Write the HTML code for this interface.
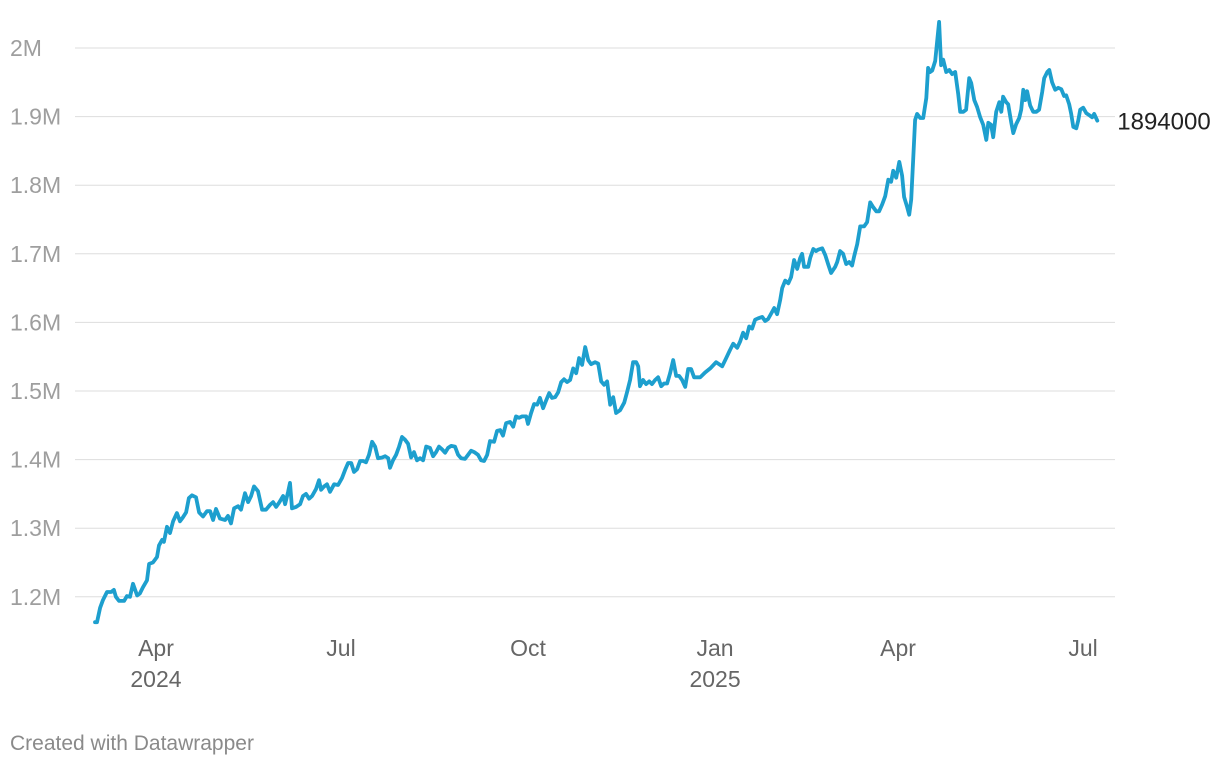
<!DOCTYPE html>
<html><head><meta charset="utf-8">
<style>
html,body{margin:0;padding:0;background:#fff;width:1220px;height:768px;overflow:hidden;font-family:"Liberation Sans",sans-serif;}
svg{display:block}
.footer{position:absolute;left:10px;top:732px;font-size:21px;color:#8a8a8a;}
</style></head>
<body>
<svg id="chart" width="1220" height="768"></svg>
<div class="footer">Created with Datawrapper</div>
<script>
const yTicks=[1200,1300,1400,1500,1600,1700,1800,1900,2000];
const yTickLabels=["1.2M","1.3M","1.4M","1.5M","1.6M","1.7M","1.8M","1.9M","2M"];
const xTickDays=[30,121,213,305,395,486];
const xTickLabels=["Apr","Jul","Oct","Jan","Apr","Jul"];
const xYearLabels=["2024","","","2025","",""];
const days=[0,1.0,2.5,3.9,5.9,7.9,9.3,10.3,11.8,14.3,15.7,17.2,18.7,20.7,22.1,23.6,25.6,26.6,28.5,30.5,31.5,33.0,33.9,35.4,36.9,38.4,40.3,41.8,43.3,44.8,46.2,47.7,49.7,51.2,53.1,55.1,56.6,58.1,59.5,61.5,64.0,65.4,66.9,68.4,70.4,71.8,73.8,75.3,76.8,78.2,80.2,82.2,84.1,86.1,87.6,89.1,90.5,92.5,93.5,95.0,95.9,96.9,98.9,100.9,102.3,103.8,105.3,106.8,108.7,110.2,111.2,112.7,114.1,115.6,117.6,119.6,121.5,123.0,124.5,126.0,127.4,128.9,130.4,131.9,133.3,134.8,136.3,137.8,139.2,141.2,142.7,144.2,145.1,146.6,148.1,149.6,151.0,152.5,154.0,155.5,156.9,158.4,159.9,161.4,162.9,164.8,166.3,167.8,169.2,170.7,172.2,173.7,175.2,177.1,178.6,180.1,182.0,183.5,185.0,186.5,188.4,189.9,191.4,192.9,194.3,196.3,197.8,199.3,200.7,202.2,204.2,205.7,207.1,208.6,210.1,212.1,213.0,214.5,216.0,217.5,218.9,220.4,221.9,223.4,224.8,226.3,227.8,229.3,230.7,232.2,233.7,235.2,236.7,238.1,239.6,241.1,242.6,244.0,246.0,247.5,249.0,250.4,251.9,253.4,254.9,256.3,258.3,260.3,261.7,263.2,264.7,266.2,267.2,268.1,269.6,271.1,272.6,274.0,275.5,277.0,278.5,279.9,281.4,282.9,284.4,285.9,287.3,288.8,290.3,291.8,293.2,294.7,297.7,300.1,302.6,305.5,308.5,310.5,312.4,313.9,315.9,317.3,318.8,320.3,321.8,323.2,324.7,326.2,328.2,329.6,331.1,332.6,334.1,335.5,337.0,338.0,339.5,341.0,342.4,343.9,345.4,346.9,347.8,348.8,350.8,351.8,353.3,354.7,355.7,357.7,359.2,360.6,362.1,364.1,365.1,366.5,368.0,369.5,371.0,372.4,373.4,374.9,376.4,378.3,379.8,381.3,382.8,384.3,385.7,387.2,388.7,390.2,391.6,392.6,394.1,395.6,397.0,398.0,399.5,400.5,401.5,402.5,403.4,404.4,405.9,407.4,408.9,409.8,410.8,411.8,413.3,414.3,415.2,416.2,417.2,418.7,420.2,421.6,423.1,424.6,425.6,427.1,428.5,430.0,431.0,432.5,433.9,435.4,436.9,438.4,439.4,440.8,441.8,443.3,444.8,445.8,446.7,448.2,449.2,450.7,451.7,453.1,454.6,455.6,456.6,457.6,458.5,460.0,461.5,463.0,464.4,465.9,466.9,468.4,469.4,470.8,472.3,473.8,475.3,476.7,477.7,479.2,480.2,481.2,482.7,483.6,484.6,486.1,487.6,489.1,490.5,491.5,493.0];
const values=[1163,1163,1184,1195,1207,1207,1210,1200,1194,1194,1201,1200,1219,1202,1205,1214,1224,1248,1250,1258,1275,1283,1280,1302,1293,1310,1322,1310,1316,1323,1344,1348,1345,1323,1317,1325,1325,1312,1328,1314,1312,1318,1307,1329,1332,1327,1351,1338,1347,1361,1354,1327,1327,1334,1338,1331,1337,1347,1335,1353,1366,1329,1331,1335,1347,1350,1343,1347,1357,1370,1356,1361,1364,1353,1364,1363,1373,1385,1395,1395,1382,1386,1398,1398,1396,1407,1426,1419,1402,1403,1405,1402,1388,1399,1407,1419,1433,1429,1423,1403,1411,1399,1402,1399,1419,1417,1405,1411,1419,1415,1410,1417,1420,1419,1407,1402,1401,1407,1413,1411,1407,1399,1398,1407,1427,1426,1442,1443,1435,1453,1455,1448,1463,1461,1463,1463,1452,1468,1481,1480,1490,1475,1486,1497,1490,1491,1498,1513,1517,1513,1516,1533,1526,1548,1538,1564,1545,1539,1542,1540,1514,1509,1514,1480,1491,1468,1472,1483,1498,1516,1542,1542,1536,1507,1516,1510,1514,1510,1516,1520,1507,1511,1511,1526,1545,1522,1522,1516,1506,1532,1532,1520,1520,1527,1533,1542,1536,1548,1560,1569,1563,1572,1585,1577,1594,1591,1604,1606,1608,1602,1605,1613,1621,1612,1632,1650,1661,1657,1666,1691,1678,1694,1700,1681,1681,1694,1707,1704,1706,1708,1698,1685,1672,1681,1688,1704,1700,1685,1688,1683,1696,1714,1740,1740,1746,1775,1768,1762,1762,1772,1784,1808,1805,1821,1811,1834,1814,1783,1768,1757,1779,1841,1895,1904,1898,1898,1927,1971,1965,1967,1981,2012,2038,1975,1983,1965,1968,1962,1965,1933,1907,1907,1910,1956,1949,1924,1914,1899,1888,1866,1891,1888,1870,1907,1921,1907,1929,1921,1918,1891,1876,1889,1898,1910,1939,1924,1937,1916,1907,1907,1910,1936,1956,1965,1968,1950,1939,1942,1940,1930,1931,1918,1904,1885,1883,1894,1910,1913,1905,1902,1899,1904,1894];

const NS="http://www.w3.org/2000/svg";
const svg=document.getElementById('chart');
const X=d=>95+d*2.033;
const Y=v=>48+(2000-v)*0.686;
function mk(tag,attrs,parent){const e=document.createElementNS(NS,tag);for(const k in attrs)e.setAttribute(k,attrs[k]);(parent||svg).appendChild(e);return e;}

yTicks.forEach((t,i)=>{
  const g=mk('line',{x1:75,x2:1115,y1:Y(t),y2:Y(t),stroke:'#dddddd','stroke-width':1});
  
  
  const tx=mk('text',{x:10,y:Y(t)+8,'font-size':23,fill:'#9e9e9e','font-family':'Liberation Sans, sans-serif'});
  tx.textContent=yTickLabels[i];
  
  
});
xTickDays.forEach((d,i)=>{
  const tx=mk('text',{x:X(d),y:656,'font-size':23,fill:'#666','text-anchor':'middle','font-family':'Liberation Sans, sans-serif'});
  tx.textContent=xTickLabels[i];
  
  
  if(xYearLabels[i]){
    const ty=mk('text',{x:X(d),y:687,'font-size':23,fill:'#666','text-anchor':'middle','font-family':'Liberation Sans, sans-serif'});
    ty.textContent=xYearLabels[i];
    
    
  }
});
let dstr='';
days.forEach((d,i)=>{dstr+=(i?'L':'M')+X(d).toFixed(1)+','+Y(values[i]).toFixed(1);});
const line=mk('path',{d:dstr,fill:'none',stroke:'#1d9fce','stroke-width':3.8,'stroke-linejoin':'round','stroke-linecap':'round'});


const last=values.length-1;
const lab=mk('text',{x:X(days[last])+20,y:Y(values[last])+9,'font-size':24,fill:'#222','font-family':'Liberation Sans, sans-serif'});
lab.textContent=String(values[last]*1000);


</script>
</body></html>
